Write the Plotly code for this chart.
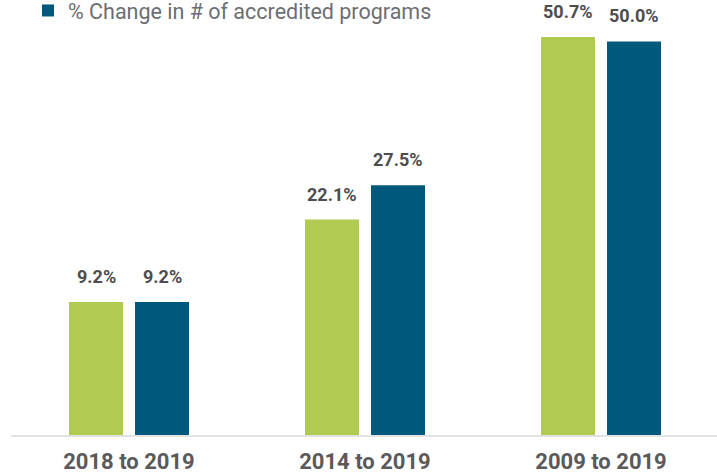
import plotly.graph_objects as go

categories = ["2018 to 2019", "2014 to 2019", "2009 to 2019"]
series1_name = "% Change in # of institutions"
series1_values = [9.2, 22.1, 50.7]
series2_name = "% Change in # of accredited programs"
series2_values = [9.2, 27.5, 50.0]
value_labels1 = ["9.2%", "22.1%", "50.7%"]
value_labels2 = ["9.2%", "27.5%", "50.0%"]

YMIN = -11.63
YMAX = 53.36
GREEN = "#b1cb52"
BLUE = "#00587c"

fig = go.Figure()
fig.add_trace(go.Bar(
    name=series1_name, x=categories,
    y=[v - YMIN for v in series1_values], base=YMIN,
    marker=dict(color=GREEN, line=dict(width=0)), showlegend=False,
))
fig.add_trace(go.Bar(
    name=series2_name, x=categories,
    y=[v - YMIN for v in series2_values], base=YMIN,
    marker=dict(color=BLUE, line=dict(width=0)),
))

off = 33 / 236
lab_font = dict(family="Roboto", size=18, color="#4d4d4f", weight="bold")
for i, (v, t) in enumerate(zip(series1_values, value_labels1)):
    fig.add_annotation(x=i - off, y=v, text=t, showarrow=False, yanchor="bottom",
                       yshift=13, font=lab_font)
for i, (v, t) in enumerate(zip(series2_values, value_labels2)):
    fig.add_annotation(x=i + off, y=v, text=t, showarrow=False, yanchor="bottom",
                       yshift=13, font=lab_font)

fig.update_layout(
    width=717, height=475,
    margin=dict(l=11, r=0, t=20, b=40, autoexpand=False),
    paper_bgcolor="white", plot_bgcolor="white",
    barmode="group", bargap=0.4407, bargroupgap=0.1818,
    font=dict(family="Roboto", color="#6d6e71"),
    showlegend=True,
    legend=dict(orientation="h", x=(28 - 11) / 706, y=1.0723,
                xanchor="left", yanchor="top", font=dict(size=21.5, color="#6d6e71"),
                bgcolor="rgba(0,0,0,0)", traceorder="normal", itemsizing="constant"),
    xaxis=dict(type="category", range=[-0.5, 2.4915], showline=True, linecolor="#e2e2e2",
               linewidth=2, showgrid=False, zeroline=False, ticks="",
               tickfont=dict(family="Roboto", size=22, color="#5a5a5c", weight="bold"),
               ticklabelstandoff=6, fixedrange=True),
    yaxis=dict(range=[YMIN, YMAX], visible=False, showgrid=False, zeroline=False, fixedrange=True),
)

fig.write_html("out.html", config={"displayModeBar": False},
               post_script="document.body.style.margin='0';")
